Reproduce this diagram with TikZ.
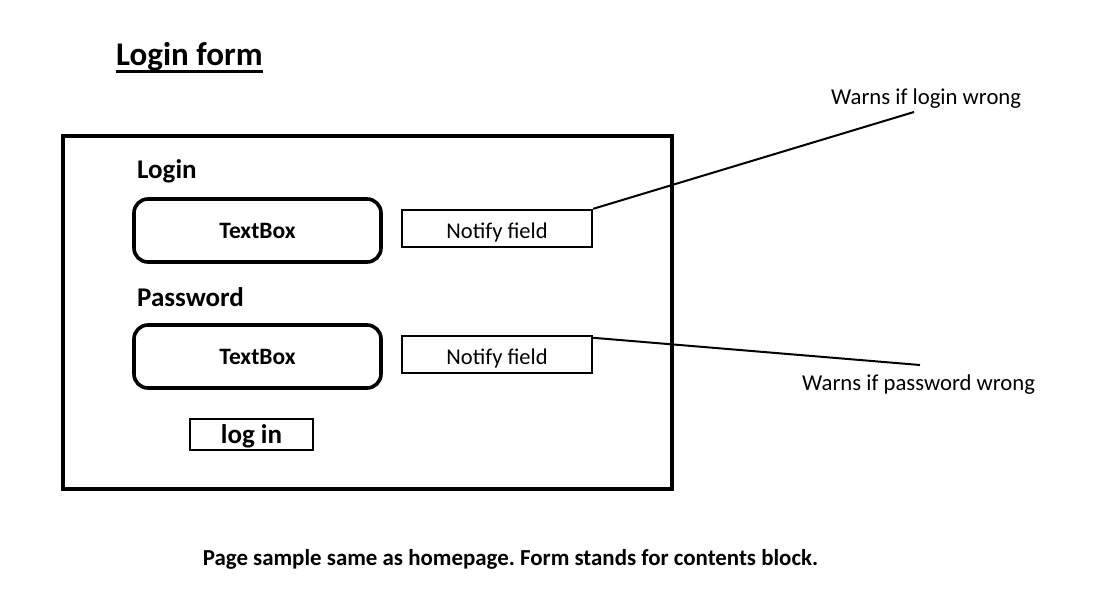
\documentclass[tikz,border=0pt]{standalone}
\usepackage{fontspec}
\setmainfont{Carlito}
\frenchspacing
\begin{document}
\begin{tikzpicture}[x=1pt,y=-1pt,
  frame/.style={draw,line width=4pt},
  tbox/.style={draw,line width=3.6pt,rounded corners=14pt,minimum width=247pt,minimum height=63pt,inner sep=0pt,text height=15.1pt,text depth=0pt,font=\fontsize{23.5}{27}\selectfont\bfseries},
  notify/.style={draw,line width=2.4pt,minimum width=190pt,minimum height=37pt,inner sep=0pt,text height=19pt,text depth=0pt,font=\fontsize{22.5}{26}\selectfont},
  btn/.style={draw,line width=2.4pt,minimum width=123pt,minimum height=31pt,inner sep=0pt,text height=17pt,text depth=0pt,font=\fontsize{27}{31}\selectfont\bfseries},
  lbl/.style={inner sep=0pt,anchor=base west,font=\fontsize{27}{31}\selectfont\bfseries},
  note/.style={inner sep=0pt,anchor=base west,font=\fontsize{22.7}{26}\selectfont},
  conn/.style={line width=2pt}]
\useasboundingbox (0,0) rectangle (1100,600);
\node[inner sep=0pt,anchor=base west,font=\fontsize{33}{38}\selectfont\bfseries] (title) at (116,65) {Login form};
\draw[line width=3pt] ([yshift=-6.5pt]title.base west) -- ([yshift=-6.5pt]title.base east);
\node[frame,minimum width=609pt,minimum height=353pt,inner sep=0pt] (form) at (367.5,312.5) {};
\node[lbl] (loginlbl) at (137,178) {Login};
\node[tbox] (tb1) at (257.5,230.5) {TextBox};
\node[notify] (nf1) at (497,228.5) {Notify field};
\node[lbl] (pwlbl) at (137,306) {Password};
\node[tbox] (tb2) at (257.5,356.5) {TextBox};
\node[notify] (nf2) at (497,354.5) {Notify field};
\node[btn] (login) at (251.5,434.5) {log in};
\coordinate (c1) at (914,112);
\coordinate (c2) at (920,365);
\node[note] (w1) at (831,104) {Warns if login wrong};
\node[note] (w2) at (802,390) {Warns if password wrong};
\draw[conn] (nf1.north east) -- (c1);
\draw[conn] ([yshift=-3pt]nf2.north east) -- (c2);
\node[inner sep=0pt,anchor=base,font=\fontsize{22.9}{26}\selectfont\bfseries] (foot) at (510.5,565.5) {Page sample same as homepage. Form stands for contents block.};
\end{tikzpicture}
\end{document}
